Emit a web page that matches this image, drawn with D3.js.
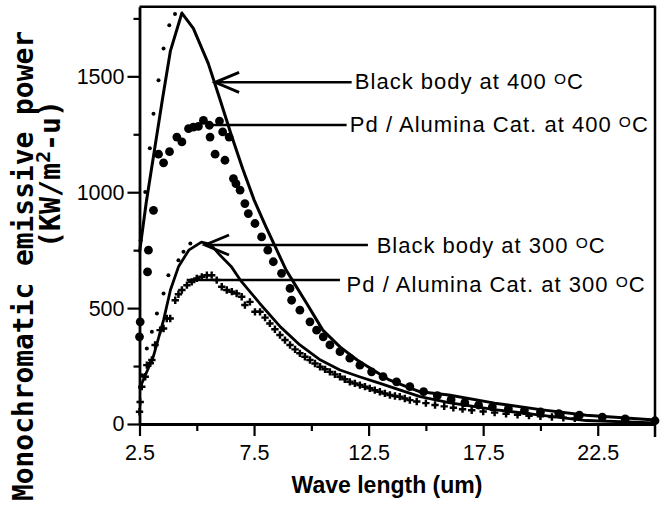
<!DOCTYPE html>
<html>
<head>
<meta charset="utf-8">
<script src="https://cdn.jsdelivr.net/npm/d3@7"></script>
<style>
body { margin: 0; background: #fff; }
svg { display: block; }
</style>
</head>
<body>
<svg id="chart"></svg>
<script>
// black body curves (drawn lines)
var bb400X = [2.5, 2.8, 3.15, 3.5, 3.85, 4.35, 4.85, 5.5, 6, 6.5, 7, 7.5, 8, 8.9, 9.8, 10.5, 11.25, 12, 12.7, 13.4, 14.15, 14.75, 16, 18, 20, 22, 25];
var bb400Y = [740, 960, 1180, 1400, 1610, 1773, 1707, 1556, 1404, 1249, 1102, 967, 855, 664, 520, 405, 333, 276, 233, 190, 161, 139, 125, 90, 62, 38, 17];
var bb300X = [2.5, 2.6, 3.1, 3.55, 3.85, 4.2, 4.65, 5.2, 5.6, 6, 6.5, 6.9, 7.75, 8.65, 9.5, 10.4, 11.25, 12.1, 13, 13.85, 14.75, 16, 18, 20, 22, 25];
var bb300Y = [150, 175, 290, 448, 578, 678, 750, 785, 775, 730, 680, 621, 520, 419, 341, 276, 233, 204, 175, 147, 118, 92, 62, 38, 15, 5];

// small dots along the black body curves
var bbDot400X = [2.55, 2.75, 2.95, 3.11, 3.33, 3.55, 3.8, 4.05];
var bbDot400Y = [793, 1001, 1190, 1339, 1483, 1620, 1720, 1769];
var bbDot300X = [2.62, 2.82, 3.04, 3.26, 3.55, 3.76, 4.2, 4.42, 4.72];
var bbDot300Y = [210, 326, 398, 477, 563, 642, 707, 743, 779];

// Pd / Alumina catalyst at 400 C (large dots)
var pd400X = [2.5, 2.53, 2.85, 2.89, 3.11, 3.33, 3.55, 3.81, 4.13, 4.35, 4.64, 4.85, 5.07, 5.29, 5.55, 5.58, 5.8, 5.99, 6.13, 6.23, 6.41, 6.6, 6.71, 6.89, 7.1, 7.25, 7.54, 7.83, 8.1, 8.34, 8.7, 9.07, 9.14, 9.5, 9.94, 10.23, 10.52, 10.81, 11.25, 11.68, 12.12, 12.63, 13.13, 13.72, 14.3, 14.9, 15.5, 16.1, 16.7, 17.3, 17.9, 18.6, 19.3, 20.0, 20.8, 21.7, 22.7, 23.7, 25];
var pd400Y = [376, 441, 656, 750, 922, 1164, 1127, 1175, 1238, 1217, 1274, 1281, 1284, 1310, 1289, 1238, 1164, 1307, 1260, 1138, 1238, 1059, 1037, 1009, 951, 908, 865, 807, 750, 700, 650, 585, 534, 491, 441, 405, 376, 341, 312, 284, 254, 225, 204, 182, 161, 140, 122, 105, 92, 82, 74, 66, 58, 52, 45, 38, 30, 22, 14];

// Pd / Alumina catalyst at 300 C (crosses)
var pd300X = [2.5, 2.53, 2.6, 2.75, 2.82, 2.97, 3.04, 3.18, 3.4, 3.55, 3.69, 3.84, 4.06, 4.2, 4.35, 4.57, 4.78, 5.0, 5.22, 5.44, 5.65, 5.87, 6.09, 6.31, 6.53, 6.74, 6.96, 7.1, 7.32, 7.54, 7.76, 7.98, 8.19, 8.41, 8.63, 8.85, 9.07, 9.29, 9.5, 9.72, 9.94, 10.16, 10.38, 10.6, 10.81, 11.03, 11.25, 11.46, 11.68, 11.9, 12.12, 12.34, 12.55, 12.77, 12.99, 13.21, 13.43, 13.65, 13.86, 14.08, 14.3, 14.6, 15.0, 15.4, 15.8, 16.2, 16.6, 17.0, 17.5, 18.0, 18.5, 19.0, 19.5, 20.0, 20.5, 21.0, 21.5];
var pd300Y = [53, 95, 161, 204, 254, 262, 276, 341, 405, 412, 455, 455, 534, 560, 578, 599, 613, 628, 635, 642, 642, 621, 592, 578, 571, 563, 549, 513, 527, 484, 484, 459, 434, 409, 384, 362, 341, 322, 305, 290, 276, 261, 247, 236, 225, 214, 204, 193, 182, 175, 168, 161, 154, 146, 139, 132, 125, 121, 118, 110, 103, 97, 90, 82, 76, 70, 64, 59, 54, 49, 44, 40, 36, 33, 30, 27, 24];

var xTicks = [2.5, 7.5, 12.5, 17.5, 22.5];
var xMinor = [5, 10, 15, 20];
var yTicks = [0, 500, 1000, 1500];
var yMinor = [250, 750, 1250, 1750];

var noteLabels = ["Black body at 400 ", "Pd / Alumina Cat. at 400 ", "Black body at 300 ", "Pd / Alumina Cat. at 300 "];

var width = 660, height = 505;
var font = "'Liberation Sans', Arial, Helvetica, sans-serif";

var svg = d3.select("#chart")
    .attr("width", width)
    .attr("height", height);

svg.append("rect")
    .attr("width", width)
    .attr("height", height)
    .attr("fill", "#fff");

var x = d3.scaleLinear().domain([2.5, 25]).range([139.5, 655]);
var y = d3.scaleLinear().domain([0, 1800]).range([424, 6.8]);

// frame top + right
svg.append("line")
    .attr("x1", x(2.5)).attr("x2", x(25))
    .attr("y1", y(1800)).attr("y2", y(1800))
    .attr("stroke", "#000").attr("stroke-width", 2.5);
svg.append("line")
    .attr("x1", x(25)).attr("x2", x(25))
    .attr("y1", y(1800) - 1).attr("y2", y(0) + 13)
    .attr("stroke", "#000").attr("stroke-width", 2.5);

// axes
svg.append("g")
    .attr("transform", "translate(0," + y(0) + ")")
    .call(d3.axisBottom(x).tickValues(xTicks).tickSize(12).tickSizeOuter(0).tickPadding(9).tickFormat(d3.format(".1f")));
svg.append("g")
    .attr("transform", "translate(0," + y(0) + ")")
    .call(d3.axisBottom(x).tickValues(xMinor).tickSize(7).tickFormat(""))
    .call(g => g.select(".domain").remove());

svg.append("g")
    .attr("transform", "translate(" + x(2.5) + ",0)")
    .call(d3.axisLeft(y).tickValues(yTicks).tickSize(12).tickSizeOuter(0).tickPadding(3).tickFormat(d3.format("d")));
svg.append("g")
    .attr("transform", "translate(" + x(2.5) + ",0)")
    .call(d3.axisLeft(y).tickValues(yMinor).tickSize(6).tickFormat(""))
    .call(g => g.select(".domain").remove());

svg.selectAll(".domain").attr("stroke-width", 2.8);
svg.selectAll(".tick line").attr("stroke-width", 2.2);
svg.selectAll(".tick text")
    .attr("font-family", font)
    .attr("font-size", 21.5)
    .attr("fill", "#000");

// axis titles
svg.append("text")
    .attr("x", 387)
    .attr("y", 493)
    .attr("text-anchor", "middle")
    .attr("font-family", font)
    .attr("font-weight", "bold")
    .attr("font-size", 23)
    .text("Wave length (um)");

var mono = "'DejaVu Sans Mono', 'Liberation Mono', monospace";
svg.append("text")
    .attr("transform", "translate(33,266) rotate(-90)")
    .attr("text-anchor", "middle")
    .attr("font-family", mono)
    .attr("font-weight", "bold")
    .attr("font-size", 29)
    .attr("textLength", 470)
    .attr("lengthAdjust", "spacingAndGlyphs")
    .text("Monochromatic emissive power");

var t2 = svg.append("text")
    .attr("transform", "translate(60,174) rotate(-90)")
    .attr("text-anchor", "middle")
    .attr("font-family", mono)
    .attr("font-weight", "bold")
    .attr("font-size", 28)
    .attr("textLength", 148)
    .attr("lengthAdjust", "spacingAndGlyphs");
t2.append("tspan").text("(KW/m");
t2.append("tspan").attr("font-size", 20).attr("dy", -10).text("2");
t2.append("tspan").attr("dy", 10).text("-u)");

// curves
var line = d3.line()
    .x(d => x(d[0]))
    .y(d => y(d[1]));

svg.append("path")
    .datum(d3.zip(bb400X, bb400Y))
    .attr("d", line)
    .attr("fill", "none")
    .attr("stroke", "#000")
    .attr("stroke-width", 3)
    .attr("stroke-linejoin", "round");

svg.append("path")
    .datum(d3.zip(bb300X, bb300Y))
    .attr("d", line)
    .attr("fill", "none")
    .attr("stroke", "#000")
    .attr("stroke-width", 2.8)
    .attr("stroke-linejoin", "round");

svg.append("g").selectAll("circle")
    .data(d3.zip(bbDot400X, bbDot400Y).concat(d3.zip(bbDot300X, bbDot300Y)))
    .enter().append("circle")
    .attr("cx", d => x(d[0]))
    .attr("cy", d => y(d[1]))
    .attr("r", 2)
    .attr("fill", "#000");

svg.append("g").selectAll("circle")
    .data(d3.zip(pd400X, pd400Y))
    .enter().append("circle")
    .attr("cx", d => x(d[0]))
    .attr("cy", d => y(d[1]))
    .attr("r", 4.4)
    .attr("fill", "#000");

svg.append("g").selectAll("path")
    .data(d3.zip(pd300X, pd300Y))
    .enter().append("path")
    .attr("transform", d => "translate(" + x(d[0]) + "," + y(d[1]) + ")")
    .attr("d", d3.symbol().type(d3.symbolCross).size(30))
    .attr("fill", "#000");

// annotations: leader start, leader end, text start (data units)
var notes = [
    {from: [5.8, 1474], to: 11.76, tx: 11.9, arrow: true, dy: 7, w: 228},
    {from: [5.43, 1290], to: 11.54, tx: 11.68, arrow: false, dy: 7, w: 298},
    {from: [5.36, 772], to: 12.47, tx: 12.85, arrow: true, dy: 8, w: 228},
    {from: [4.56, 621], to: 11.25, tx: 11.54, arrow: false, dy: 12, w: 298}
];

notes.forEach(function(n, i) {
    var x0 = x(n.from[0]), y0 = y(n.from[1]);
    svg.append("line")
        .attr("x1", x0).attr("x2", x(n.to))
        .attr("y1", y0).attr("y2", y0)
        .attr("stroke", "#000").attr("stroke-width", 2.5);
    if (n.arrow) {
        svg.append("path")
            .attr("d", "M" + (x0 + 24) + "," + (y0 - 10) + "L" + x0 + "," + y0 + "L" + (x0 + 24) + "," + (y0 + 10))
            .attr("fill", "none")
            .attr("stroke", "#000")
            .attr("stroke-width", 2.8);
    }
    var t = svg.append("text")
        .attr("x", x(n.tx))
        .attr("y", y0 + n.dy)
        .attr("font-family", font)
        .attr("font-size", 22)
        .attr("textLength", n.w)
        .attr("fill", "#000");
    t.append("tspan").text(noteLabels[i]);
    t.append("tspan").attr("font-size", 15.5).attr("dy", -5).text("O");
    t.append("tspan").attr("dy", 5).text("C");
});
</script>
</body>
</html>
